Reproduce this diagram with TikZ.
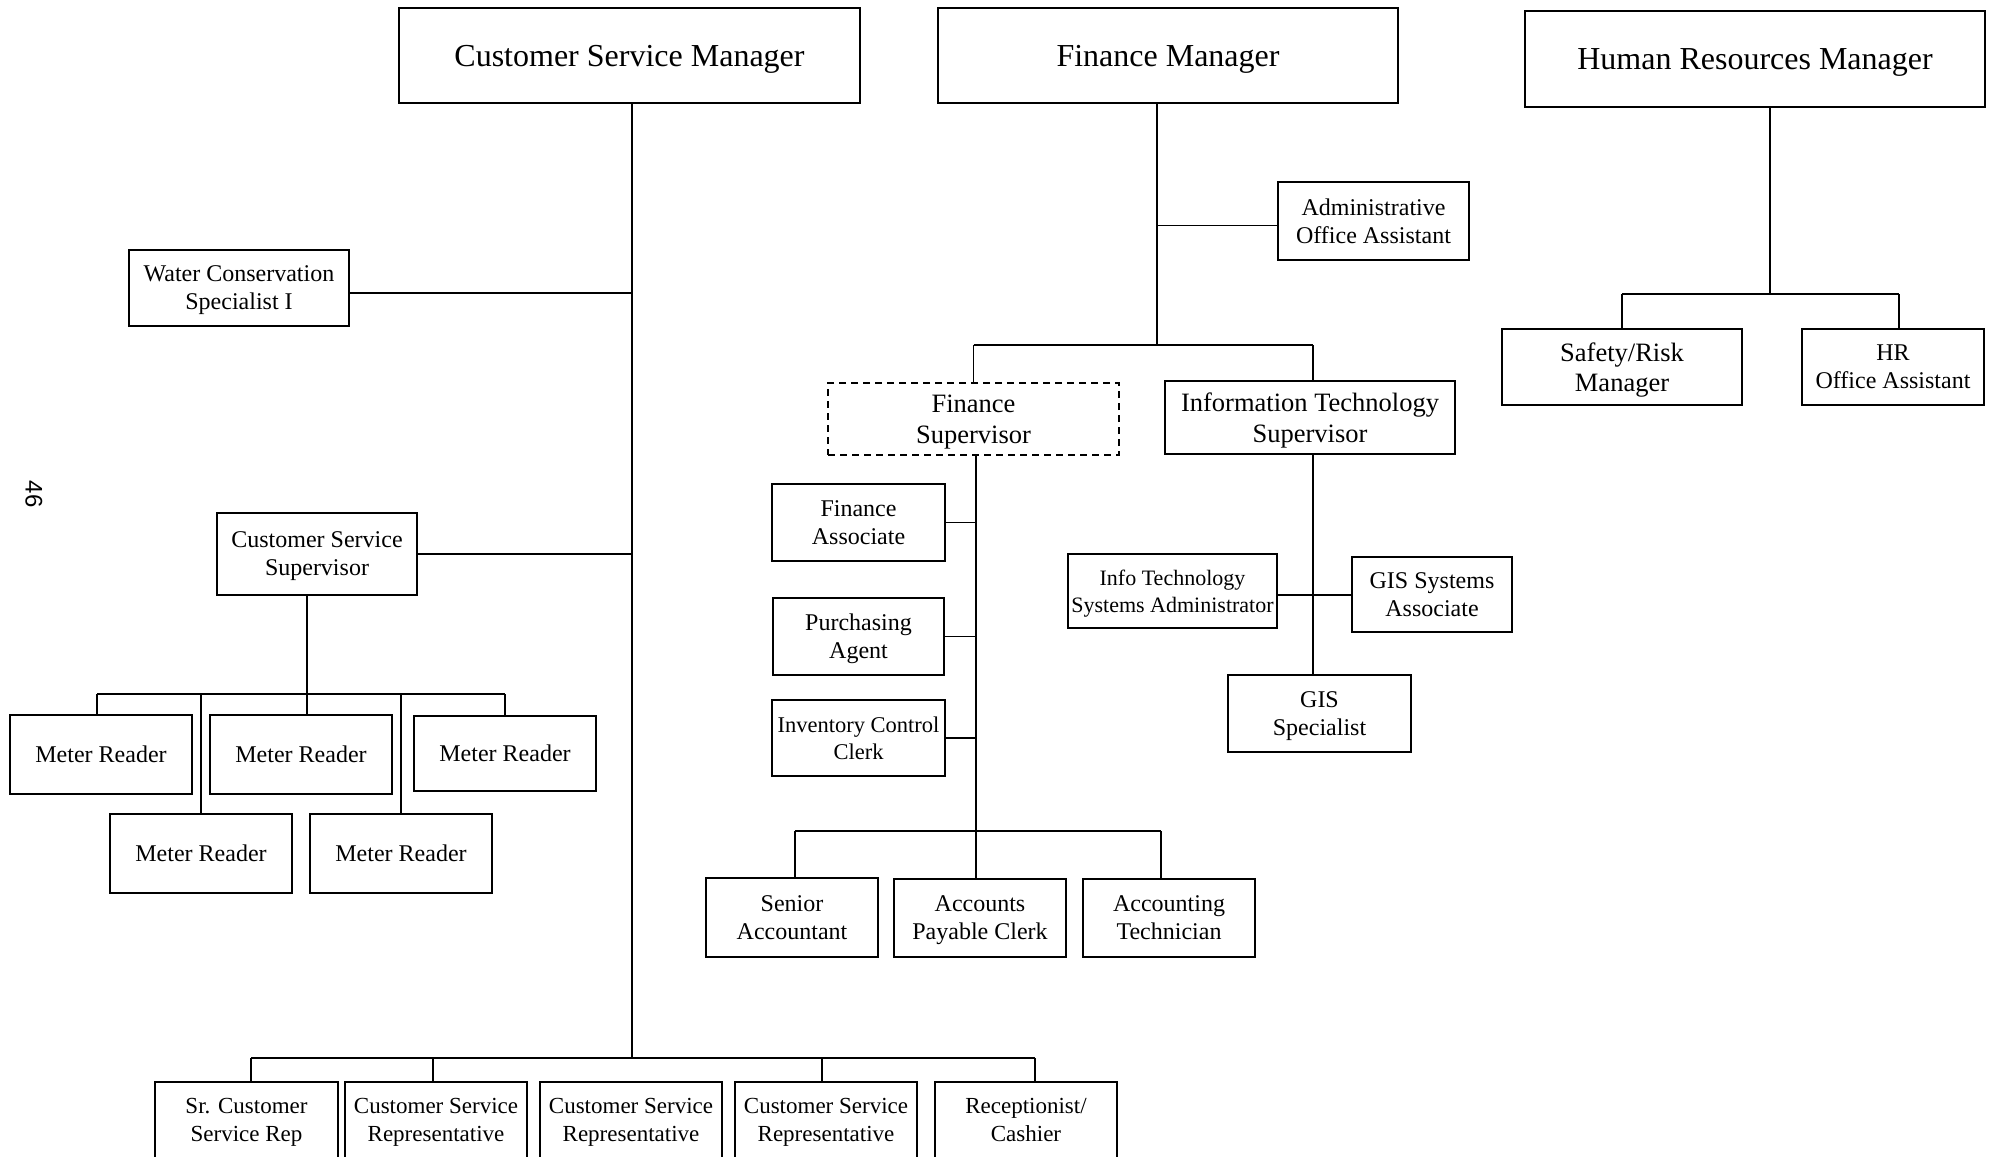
\documentclass[tikz,border=0pt]{standalone}
\usepackage{fontspec}
\setmainfont{Liberation Serif}
\newfontfamily\pagefont{Liberation Sans}
\usetikzlibrary{positioning}

\begin{document}
\begin{tikzpicture}
  [x=1pt,y=-1pt,
   box/.style={rectangle,draw=black,line width=1.5pt,inner sep=2pt,align=center,
               text depth=0pt,font=\fontsize{24}{28}\selectfont},
   mgr/.style={box,font=\fontsize{32}{36}\selectfont},
   sup/.style={box,font=\fontsize{26.5}{30.5}\selectfont},
   link/.style={draw=black,line width=1.3pt}]
  \useasboundingbox (0,0) rectangle (1998,1157);
  \clip (0,0) rectangle (1998,1157);

  % managers
  \node (csm) at (629.5,55.5) [mgr,minimum width=461,minimum height=95] {Customer Service Manager};
  \node (fm) at (1168,55.5) [mgr,minimum width=460,minimum height=95] {Finance Manager};
  \node (hrm) at (1755,59) [mgr,minimum width=460,minimum height=96] {Human Resources Manager};

  \node (pg) at (34,494) [rotate=-90,font=\pagefont\fontsize{24}{28}\selectfont] {46};

  % customer service
  \node (wcs) at (239,288) [box,minimum width=220,minimum height=76] {Water Conservation\\Specialist I};
  \node (css) at (317,554) [box,minimum width=200,minimum height=82] {Customer Service\\Supervisor};
  \node (mr1) at (101,754.5) [box,minimum width=182,minimum height=79] {Meter Reader};
  \node (mr2) at (301,754.5) [box,minimum width=182,minimum height=79] {Meter Reader};
  \node (mr3) at (505,753.5) [box,minimum width=182,minimum height=75] {Meter Reader};
  \node (mr4) at (201,853.5) [box,minimum width=182,minimum height=79] {Meter Reader};
  \node (mr5) at (401,853.5) [box,minimum width=182,minimum height=79] {Meter Reader};
  \node (scsr) at (246.5,1120) [box,minimum width=183,minimum height=76,font=\fontsize{23}{28}\selectfont] {Sr. Customer\\Service Rep};
  \node (csr1) at (436,1120) [box,minimum width=182,minimum height=76,font=\fontsize{23}{28}\selectfont] {Customer Service\\Representative};
  \node (csr2) at (631,1120) [box,minimum width=182,minimum height=76,font=\fontsize{23}{28}\selectfont] {Customer Service\\Representative};
  \node (csr3) at (826,1120) [box,minimum width=182,minimum height=76,font=\fontsize{23}{28}\selectfont] {Customer Service\\Representative};
  \node (rcp) at (1026,1120) [box,minimum width=182,minimum height=76,font=\fontsize{23}{28}\selectfont] {Receptionist/\\Cashier};

  \coordinate (csbar) at (632,1058);
  \coordinate (mrbar) at (307,694);
  \draw [link] (csm.south -| csbar) -- (csbar);
  \draw [link] ([yshift=-5pt]wcs.east) -- ([yshift=-5pt]wcs.east -| csbar);
  \draw [link] (css.east) -- (css.east -| csbar);
  \draw [link] (css.south -| mrbar) -- (mr2.north -| mrbar);
  \draw [link] ([xshift=-4pt]mr1.north |- mrbar) -- (mr3.north |- mrbar);
  \draw [link] ([xshift=-4pt]mr1.north) -- ([xshift=-4pt]mr1.north |- mrbar);
  \foreach \n in {mr3,mr4,mr5}
    \draw [link] (\n.north) -- (\n.north |- mrbar);
  \draw [link] ([xshift=4.5pt]scsr.north |- csbar) -- ([xshift=9pt]rcp.north |- csbar);
  \draw [link] ([xshift=4.5pt]scsr.north) -- ([xshift=4.5pt]scsr.north |- csbar);
  \draw [link] ([xshift=-3pt]csr1.north) -- ([xshift=-3pt]csr1.north |- csbar);
  \draw [link] ([xshift=-4pt]csr3.north) -- ([xshift=-4pt]csr3.north |- csbar);
  \draw [link] ([xshift=9pt]rcp.north) -- ([xshift=9pt]rcp.north |- csbar);

  % finance
  \node (aoa) at (1373.5,221) [box,minimum width=191,minimum height=78] {Administrative\\Office Assistant};
  \node (fs) at (973.5,419) [sup,dash pattern=on 7pt off 5pt,minimum width=291,minimum height=72] {Finance\\Supervisor};
  \node (its) at (1310,417.5) [sup,minimum width=290,minimum height=73] {Information Technology\\Supervisor};
  \node (fa) at (858.5,522.5) [box,minimum width=173,minimum height=77] {Finance\\Associate};
  \node (pa) at (858.5,636.5) [box,minimum width=171,minimum height=77] {Purchasing\\Agent};
  \node (icc) at (858.5,738) [box,minimum width=173,minimum height=76,font=\fontsize{22.5}{27}\selectfont] {Inventory Control\\Clerk};
  \node (sa) at (792,917.5) [box,minimum width=172,minimum height=79] {Senior\\Accountant};
  \node (apc) at (980,918) [box,minimum width=172,minimum height=78] {Accounts\\Payable Clerk};
  \node (atc) at (1169,918) [box,minimum width=172,minimum height=78] {Accounting\\Technician};
  \node (itsa) at (1172.5,591) [box,minimum width=209,minimum height=74,font=\fontsize{22}{27}\selectfont] {Info Technology\\Systems Administrator};
  \node (gsa) at (1432,594.5) [box,minimum width=160,minimum height=75] {GIS Systems\\Associate};
  \node (gis) at (1319.5,713.5) [box,minimum width=183,minimum height=77] {GIS\\Specialist};

  \coordinate (fbar) at (1157,345);
  \coordinate (fsbar) at (976,831);
  \draw [link] (fm.south -| fbar) -- (fbar);
  \draw [link] ([yshift=-4.5pt]aoa.west) -- ([yshift=-4.5pt]aoa.west -| fbar);
  \draw [link] (fs.north |- fbar) -- ([xshift=3pt]its.north |- fbar);
  \draw [link] (fs.north) -- (fs.north |- fbar);
  \draw [link] ([xshift=3pt]its.north) -- ([xshift=3pt]its.north |- fbar);
  \draw [link] (fs.south -| fsbar) -- (fsbar);
  \foreach \n in {fa,pa,icc}
    \draw [link] (\n.east) -- (\n.east -| fsbar);
  \draw [link] ([xshift=3pt]sa.north |- fsbar) -- ([xshift=-8pt]atc.north |- fsbar);
  \draw [link] ([xshift=3pt]sa.north) -- ([xshift=3pt]sa.north |- fsbar);
  \draw [link] (apc.north -| fsbar) -- (fsbar);
  \draw [link] ([xshift=-8pt]atc.north) -- ([xshift=-8pt]atc.north |- fsbar);
  \draw [link] ([xshift=3pt]its.south) -- ([xshift=3pt]its.south |- gis.north);
  \draw [link] ([yshift=-4pt]itsa.east) -- ([yshift=-4pt]itsa.east -| gsa.west);

  % human resources
  \node (srm) at (1622,367) [sup,minimum width=240,minimum height=76] {Safety/Risk\\Manager};
  \node (hroa) at (1893,367) [box,minimum width=182,minimum height=76] {HR\\Office Assistant};

  \coordinate (hrbar) at (1770,294);
  \draw [link] (hrm.south -| hrbar) -- (hrbar);
  \draw [link] (srm.north |- hrbar) -- ([xshift=6pt]hroa.north |- hrbar);
  \draw [link] (srm.north) -- (srm.north |- hrbar);
  \draw [link] ([xshift=6pt]hroa.north) -- ([xshift=6pt]hroa.north |- hrbar);
\end{tikzpicture}
\end{document}
